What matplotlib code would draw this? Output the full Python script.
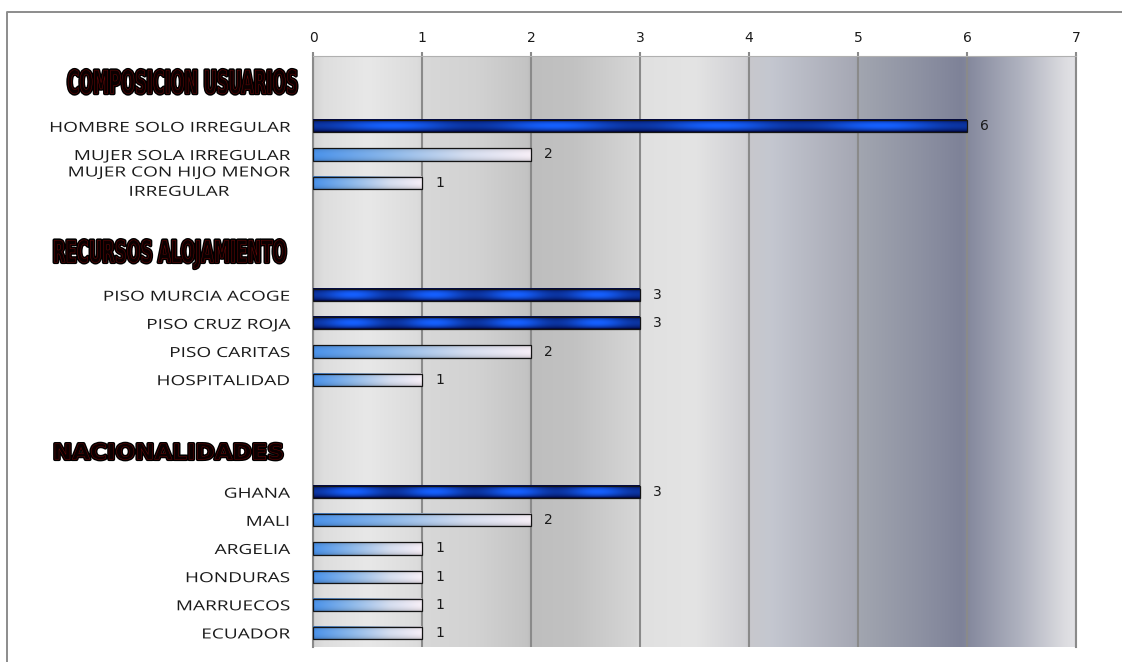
import numpy as np
import matplotlib
matplotlib.use('Agg')
import matplotlib.pyplot as plt
from matplotlib import patheffects
from matplotlib.transforms import Affine2D, blended_transform_factory
from matplotlib.lines import Line2D
from matplotlib.colors import to_rgb

section_titles = ['COMPOSICION USUARIOS', 'RECURSOS ALOJAMIENTO', 'NACIONALIDADES']

composicion_labels = ['HOMBRE SOLO IRREGULAR', 'MUJER SOLA IRREGULAR', 'MUJER CON HIJO MENOR\nIRREGULAR']
composicion_values = [6, 2, 1]

alojamiento_labels = ['PISO MURCIA ACOGE', 'PISO CRUZ ROJA', 'PISO CARITAS', 'HOSPITALIDAD']
alojamiento_values = [3, 3, 2, 1]

nacionalidad_labels = ['GHANA', 'MALI', 'ARGELIA', 'HONDURAS', 'MARRUECOS', 'ECUADOR']
nacionalidad_values = [3, 2, 1, 1, 1, 1]

x_ticks = [0, 1, 2, 3, 4, 5, 6, 7]

sections = [(composicion_labels, composicion_values),
            (alojamiento_labels, alojamiento_values),
            (nacionalidad_labels, nacionalidad_values)]
blank_rows = [2, 3, 3]   # filas vacias antes de cada bloque (ahi va el titulo)


class Widen(patheffects.Stroke):
    ## ensancha el texto en horizontal alrededor de su punto de anclaje
    def __init__(self, factor, anchor, **kwargs):
        super().__init__(**kwargs)
        self.factor = factor
        self.anchor = anchor

    def draw_path(self, renderer, gc, tpath, affine, rgbFace):
        x0 = self.anchor()
        stretch = Affine2D().translate(-x0, 0).scale(self.factor, 1).translate(x0, 0)
        super().draw_path(renderer, gc, tpath, affine + stretch, rgbFace)


def anchor_of(t):
    return lambda: t.get_transform().transform(t.get_position())[0]


def blend(stops, n):
    f = np.linspace(0, 1, n)
    pos = [s[0] for s in stops]
    cols = np.array([to_rgb(s[1]) for s in stops])
    return np.stack([np.interp(f, pos, cols[:, k]) for k in range(3)], axis=-1)


def dark_texture(nx=400, ny=30):
    f = np.linspace(0, 1, nx)
    t = np.linspace(0, 1, ny)
    blobs = np.cos(np.pi * (f - 0.12) / 0.25) ** 2
    profile = np.sin(np.pi * t) ** 0.6
    inten = profile[:, None] * (0.55 + 0.45 * blobs[None, :])
    dark = np.array(to_rgb('#000030'))
    bright = np.array(to_rgb('#1560ff'))
    return dark + (bright - dark) * inten[..., None]


def light_texture(nx=400, ny=30):
    row = blend([(0.0, '#4a92ea'), (0.35, '#8cb8ea'), (0.7, '#d4ddef'), (1.0, '#f7eff7')], nx)
    t = np.linspace(0, 1, ny)
    shade = 0.78 + 0.22 * np.sin(np.pi * t) ** 0.5
    return np.clip(row[None, :, :] * shade[:, None, None], 0, 1)


# filas: bloques separados por filas vacias
labels, values, positions, title_rows = [], [], [], []
row = 0
for (labs, vals), gap in zip(sections, blank_rows):
    row += gap
    title_rows.append(row)
    for lab, v in zip(labs, vals):
        labels.append(lab)
        values.append(v)
        positions.append(row)
        row += 1
n_rows = row

fig = plt.figure(figsize=(11.22, 6.62), dpi=100)
ax = fig.add_axes([313 / 1122, 15 / 662, 763 / 1122, 591 / 662])

# fondo con franjas degradadas
bg_stops = [(0.0, '#d4d4d4'), (0.1 / 7, '#dedede'), (0.5 / 7, '#e8e8e8'), (0.95 / 7, '#dcdcdc'),
            (1.0 / 7, '#d8d8d8'), (1.5 / 7, '#d2d2d2'), (1.95 / 7, '#c4c4c4'),
            (2.0 / 7, '#bebebe'), (2.4 / 7, '#c2c2c2'), (2.97 / 7, '#d6d6d6'),
            (3.0 / 7, '#e0e0e0'), (3.5 / 7, '#e4e4e4'), (3.97 / 7, '#d0d0d4'),
            (4.0 / 7, '#c8c8cc'), (4.2 / 7, '#c4c7d0'), (4.97 / 7, '#a6a8b4'),
            (5.0 / 7, '#a2a6b0'), (5.5 / 7, '#9094a4'), (5.95 / 7, '#7e8298'),
            (6.05 / 7, '#888ca0'), (6.5 / 7, '#b0b3c0'), (6.9 / 7, '#dcdce0'), (1.0, '#e2e2e6')]
bg = blend(bg_stops, 1400)
ax.imshow(bg[np.newaxis, :, :], extent=[0, 7, n_rows - 0.5, -0.5], aspect='auto',
          zorder=0, interpolation='bilinear')

ax.set_axisbelow(True)
ax.grid(axis='x', color='#8a8a8a', linewidth=1.5)
ax.grid(axis='y', visible=False)

bars = ax.barh(positions, values, height=0.43, color='none', edgecolor='#141414',
               linewidth=0.9, zorder=4)
dark_tex = dark_texture()
light_tex = light_texture()
for rect, v in zip(bars, values):
    x0, y0, w, h = rect.get_x(), rect.get_y(), rect.get_width(), rect.get_height()
    tex = dark_tex if v >= 3 else light_tex
    ax.imshow(tex, extent=[x0, x0 + w, y0 + h, y0], aspect='auto', zorder=3,
              interpolation='bilinear')

for p, v in zip(positions, values):
    ax.annotate(str(v), (v, p), xytext=(9.5, 0), textcoords='offset points',
                ha='left', va='center', fontsize=10, color='#1a1a1a')

ax.set_xlim(0, 7)
ax.set_ylim(n_rows - 0.5, -0.5)

ax.xaxis.tick_top()
ax.set_xticks(x_ticks)
ax.set_xticklabels([str(x) for x in x_ticks])
ax.tick_params(axis='x', length=3, width=1.5, color='#8a8a8a', pad=5,
               labelsize=10, labelcolor='#1a1a1a')

ax.set_yticks(positions)
ax.set_yticklabels(labels, fontsize=10, family=['Open Sans', 'DejaVu Sans'], color='#1a1a1a')
ax.tick_params(axis='y', length=0, pad=16.5)
for t in ax.get_yticklabels():
    if '\n' in t.get_text():
        t.set_multialignment('center')
        t.set_linespacing(1.4)
        t.set_verticalalignment('center')

for side in ['left', 'right']:
    ax.spines[side].set_color('#8a8a8a')
    ax.spines[side].set_linewidth(1.5)
ax.spines['top'].set_color('#b0b0b0')
ax.spines['top'].set_linewidth(0.8)
ax.spines['bottom'].set_visible(False)

# titulos de cada bloque
heading_x = [-0.322, -0.341, -0.341]
heading_sizes = [23, 21.8, 15.3]
heading_widths = [231, 233, 232]
mixed = blended_transform_factory(ax.transAxes, ax.transData)
headings = []
for title, r, hx, fs in zip(section_titles, title_rows, heading_x, heading_sizes):
    headings.append(ax.text(hx, r - 1.17, title, transform=mixed, ha='left', va='baseline',
                            fontsize=fs, fontweight='bold', color='#0a0000',
                            family='DejaVu Sans', clip_on=False))

# borde exterior del grafico
fig.add_artist(Line2D([7 / 1122, 7 / 1122, 1.0], [0.0, 1 - 12 / 662, 1 - 12 / 662],
                      transform=fig.transFigure, color='#8c8c8c', linewidth=1.4))

fig.canvas.draw()
renderer = fig.canvas.get_renderer()

for t, target in zip(headings, heading_widths):
    k = target / t.get_window_extent(renderer).width
    t.set_path_effects([Widen(k, anchor_of(t), linewidth=2.6, foreground='black'),
                        Widen(k, anchor_of(t), linewidth=0.35, foreground='#700808')])

ylabels = ax.get_yticklabels()
ref = [t for t in ylabels if t.get_text() == 'HOMBRE SOLO IRREGULAR'][0]
k_lab = 241 / ref.get_window_extent(renderer).width
for t in ylabels:
    t.set_path_effects([Widen(k_lab, anchor_of(t))])

fig.savefig('out.png', dpi=100)
